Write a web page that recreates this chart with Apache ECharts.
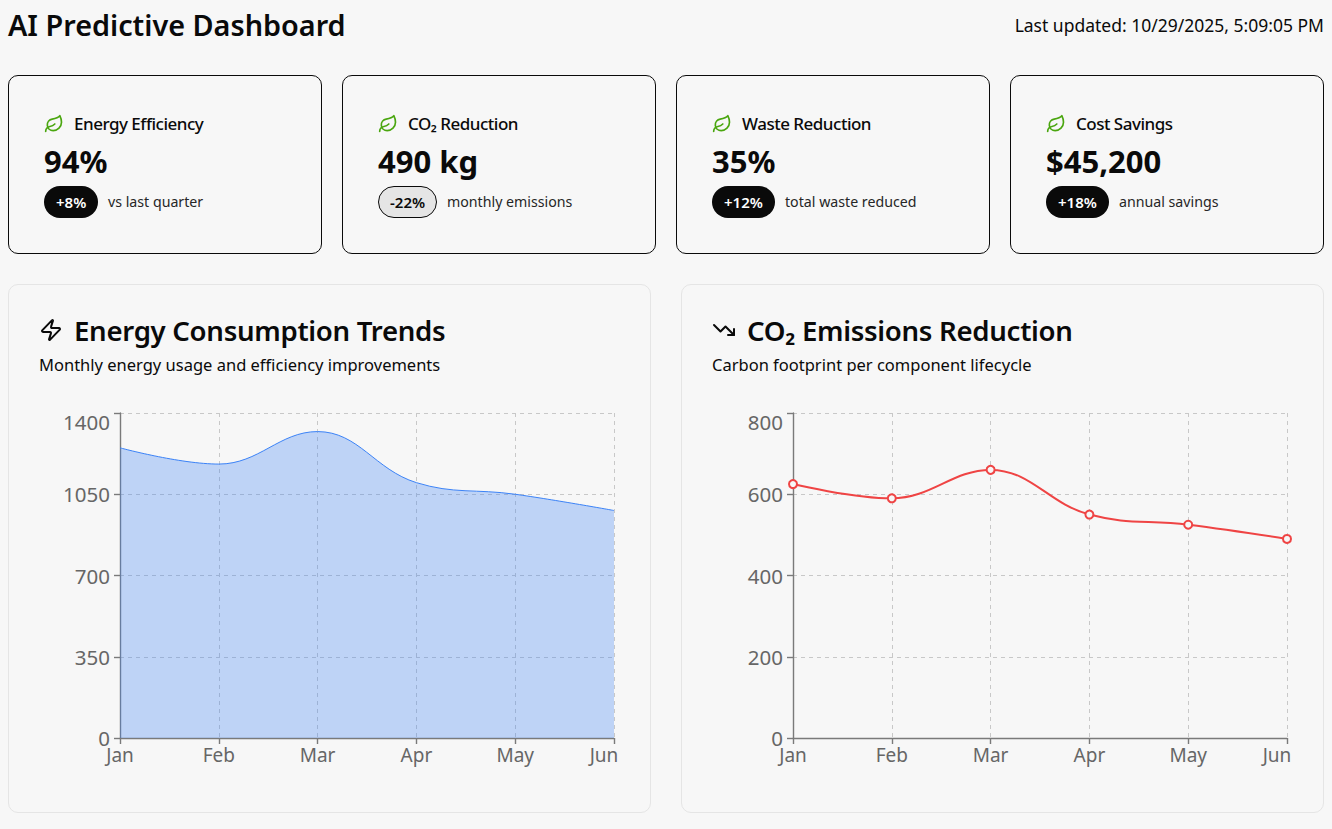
<!DOCTYPE html>
<html>
<head>
<meta charset="utf-8">
<title>AI Predictive Dashboard</title>
<script src="https://cdn.jsdelivr.net/npm/echarts@6/dist/echarts.min.js"></script>
<style>
  html, body { margin: 0; padding: 0; background: #f7f7f7; color: #0a0a0a; overflow: hidden; }
  body { font-family: "Noto Sans", sans-serif; width: 1332px; height: 829px; position: relative; }
  h1 { position: absolute; left: 8px; top: 5px; margin: 0; font-size: 28.8px; line-height: 40px; font-weight: 600; }
  .updated { position: absolute; right: 8px; top: 14px; font-size: 17.5px; line-height: 22px; white-space: nowrap; }
  .metric { position: absolute; top: 75px; width: 312px; height: 177px; border: 1px solid #0a0a0a; border-radius: 10px; }
  .metric .head { position: absolute; left: 35px; top: 36px; font-size: 17px; line-height: 24px; font-weight: 500; letter-spacing: -0.5px; display: flex; align-items: center; white-space: nowrap; }
  .metric .head svg { width: 20px; height: 20px; margin-right: 10px; fill: none; stroke: #4aa60f; stroke-width: 2; stroke-linecap: round; stroke-linejoin: round; }
  .metric .value { position: absolute; left: 35px; top: 65px; font-size: 31px; line-height: 40px; font-weight: 700; white-space: nowrap; }
  .metric .pill { position: absolute; left: 35px; top: 110px; height: 32px; line-height: 32px; padding: 0 12px; border-radius: 16px; background: #0a0a0a; color: #fff; font-size: 15px; font-weight: 600; box-sizing: border-box; white-space: nowrap; }
  .metric .pill.down { background: #e5e5e5; color: #0a0a0a; border: 1px solid #0a0a0a; line-height: 30px; padding: 0 11px; }
  .metric .note { position: absolute; top: 116px; font-size: 14.2px; line-height: 20px; color: #262626; white-space: nowrap; }
  .panel { position: absolute; top: 284px; width: 641px; height: 527px; border: 1px solid #e5e5e5; border-radius: 10px; }
  .panel .head { position: absolute; left: 30px; top: 25px; font-size: 27.6px; line-height: 40px; font-weight: 600; letter-spacing: -0.3px; display: flex; align-items: center; white-space: nowrap; }
  .panel .head svg { width: 24px; height: 24px; margin-right: 11px; fill: none; stroke: #0a0a0a; stroke-width: 2; stroke-linecap: round; stroke-linejoin: round; }
  .panel .sub { position: absolute; left: 30px; top: 68px; font-size: 16.5px; line-height: 24px; white-space: nowrap; }
  .chart { position: absolute; left: 30px; top: 120px; width: 600px; height: 380px; }
</style>
</head>
<body>
<h1>AI Predictive Dashboard</h1>
<div class="updated">Last updated: 10/29/2025, 5:09:05 PM</div>
<div id="metrics"></div>

<div class="panel" style="left:8px">
  <div class="head"><svg viewBox="0 0 24 24"><path d="M4 14a1 1 0 0 1-.78-1.63l9.9-10.2a.5.5 0 0 1 .86.46l-1.92 6.02A1 1 0 0 0 13 10h7a1 1 0 0 1 .78 1.63l-9.9 10.2a.5.5 0 0 1-.86-.46l1.92-6.02A1 1 0 0 0 11 14z"/></svg>Energy Consumption Trends</div>
  <div class="sub">Monthly energy usage and efficiency improvements</div>
  <div class="chart" id="chart-energy"></div>
</div>
<div class="panel" style="left:681px">
  <div class="head"><svg viewBox="0 0 24 24"><polyline points="22 17 13.5 8.5 8.5 13.5 2 7"/><polyline points="16 17 22 17 22 11"/></svg>CO₂ Emissions Reduction</div>
  <div class="sub">Carbon footprint per component lifecycle</div>
  <div class="chart" id="chart-co2"></div>
</div>

<script>
var months = ['Jan', 'Feb', 'Mar', 'Apr', 'May', 'Jun'];
var energyValues = [1250, 1180, 1320, 1100, 1050, 980];
var co2Values = [625, 590, 660, 550, 525, 490];

var metricTitles = ['Energy Efficiency', 'CO₂ Reduction', 'Waste Reduction', 'Cost Savings'];
var metricValues = ['94%', '490 kg', '35%', '$45,200'];
var metricChanges = ['+8%', '-22%', '+12%', '+18%'];
var metricNotes = ['vs last quarter', 'monthly emissions', 'total waste reduced', 'annual savings'];

var leaf = '<svg viewBox="0 0 24 24"><path d="M11 20A7 7 0 0 1 9.8 6.1C15.5 5 17 4.48 19 2c1 2 2 4.18 2 8 0 5.5-4.78 10-10 10Z"/><path d="M2 21c0-3 1.85-5.36 5.08-6C9.5 14.52 12 13 13 12"/></svg>';
var holder = document.getElementById('metrics');
metricTitles.forEach(function (title, i) {
  var card = document.createElement('div');
  card.className = 'metric';
  card.style.left = (8 + i * 334) + 'px';
  var down = metricChanges[i].charAt(0) === '-';
  card.innerHTML = '<div class="head">' + leaf + title + '</div>' +
    '<div class="value">' + metricValues[i] + '</div>' +
    '<div class="pill' + (down ? ' down' : '') + '">' + metricChanges[i] + '</div>' +
    '<div class="note">' + metricNotes[i] + '</div>';
  holder.appendChild(card);
  var pill = card.querySelector('.pill');
  card.querySelector('.note').style.left = (35 + pill.offsetWidth + 10) + 'px';
});

function baseOption(yMax, yStep, series) {
  var labelColor = '#666666';
  var labelFamily = '"Noto Sans", sans-serif';
  var split = { show: true, lineStyle: { color: '#c8c8c8', type: [4, 4], width: 1 } };
  var axisLine = { show: true, lineStyle: { color: '#7a7a7a', width: 1.4 } };
  var tick = { show: true, length: 6, lineStyle: { color: '#7a7a7a', width: 1.4 } };
  return {
    animation: false,
    grid: { left: 81, right: 25, top: 8, bottom: 47, containLabel: false },
    xAxis: {
      type: 'category', data: months, boundaryGap: false,
      axisLine: axisLine, axisTick: tick, splitLine: split,
      axisLabel: {
        color: labelColor, fontSize: 19, fontFamily: labelFamily,
        margin: 7, interval: 0, showMaxLabel: true,
        // last month is nudged left so it stays inside the frame
        formatter: function (v) { return v === months[months.length - 1] ? '{last|' + v + '}' : v; },
        rich: { last: { color: labelColor, fontSize: 19, fontFamily: labelFamily, padding: [0, 20, 0, 0] } }
      }
    },
    yAxis: {
      type: 'value', min: 0, max: yMax, interval: yStep,
      axisLine: axisLine, axisTick: tick, splitLine: split,
      axisLabel: {
        color: labelColor, fontSize: 20.5, lineHeight: 18, fontFamily: labelFamily,
        margin: 10, verticalAlignMaxLabel: 'top',
        formatter: function (v) { return String(v); }
      }
    },
    series: [series]
  };
}

var energyChart = echarts.init(document.getElementById('chart-energy'), null, { renderer: 'svg' });
energyChart.setOption(baseOption(1400, 350, {
  type: 'line', data: energyValues, smooth: 0.4, showSymbol: false,
  lineStyle: { color: '#3b82f6', width: 1 },
  areaStyle: { color: '#3b82f6', opacity: 0.3 }
}));

var co2Chart = echarts.init(document.getElementById('chart-co2'), null, { renderer: 'svg' });
co2Chart.setOption(baseOption(800, 200, {
  type: 'line', data: co2Values, smooth: 0.4,
  symbol: 'circle', symbolSize: 8,
  lineStyle: { color: '#ef4444', width: 2 },
  itemStyle: { color: '#f7f7f7', borderColor: '#ef4444', borderWidth: 2 }
}));
</script>
</body>
</html>
